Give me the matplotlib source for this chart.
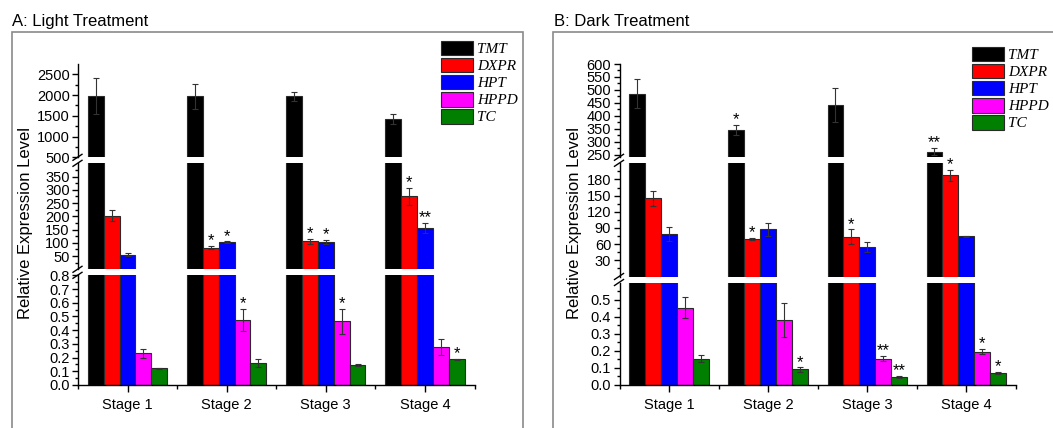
import matplotlib
matplotlib.use('Agg')
import matplotlib.pyplot as plt
from matplotlib.patches import Rectangle, Patch
from matplotlib.lines import Line2D
from matplotlib.ticker import FixedLocator, FormatStrFormatter
import numpy as np

plt.rcParams['font.family'] = ['Liberation Sans', 'DejaVu Sans']

stages = ['Stage 1', 'Stage 2', 'Stage 3', 'Stage 4']
genes = ['TMT', 'DXPR', 'HPT', 'HPPD', 'TC']
colors = ['#000000', '#ff0000', '#0000ff', '#ff00ff', '#007f00']

# ---- A: Light treatment ----
light_TMT = [1975, 1975, 1975, 1420]
light_TMT_err = [430, 300, 110, 120]
light_DXPR = [202, 82, 106, 275]
light_DXPR_err = [20, 6, 10, 33]
light_HPT = [55, 103, 104, 156]
light_HPT_err = [5, 2, 8, 18]
light_HPPD = [0.231, 0.474, 0.465, 0.275]
light_HPPD_err = [0.033, 0.08, 0.09, 0.058]
light_TC = [0.122, 0.158, 0.146, 0.187]
light_TC_err = [0.003, 0.03, 0.007, 0.005]
light_TMT_sig = ['', '', '', '']
light_DXPR_sig = ['', '*', '*', '*']
light_HPT_sig = ['', '*', '*', '**']
light_HPPD_sig = ['', '*', '*', '']
light_TC_sig = ['', '', '', '*']

# ---- B: Dark treatment ----
dark_TMT = [486, 346, 442, 262]
dark_TMT_err = [55, 20, 67, 14]
dark_DXPR = [145, 69, 73.5, 188]
dark_DXPR_err = [14.5, 2, 14, 10]
dark_HPT = [79.5, 88, 54.5, 74.7]
dark_HPT_err = [13, 12, 9, 0.5]
dark_HPPD = [0.453, 0.382, 0.155, 0.196]
dark_HPPD_err = [0.06, 0.1, 0.015, 0.016]
dark_TC = [0.155, 0.091, 0.048, 0.072]
dark_TC_err = [0.02, 0.012, 0.005, 0.006]
dark_TMT_sig = ['', '*', '', '**']
dark_DXPR_sig = ['', '*', '*', '*']
dark_HPT_sig = ['', '', '', '']
dark_HPPD_sig = ['', '', '**', '*']
dark_TC_sig = ['', '*', '**', '*']

light_vals = [light_TMT, light_DXPR, light_HPT, light_HPPD, light_TC]
light_errs = [light_TMT_err, light_DXPR_err, light_HPT_err, light_HPPD_err, light_TC_err]
light_sigs = [light_TMT_sig, light_DXPR_sig, light_HPT_sig, light_HPPD_sig, light_TC_sig]
dark_vals = [dark_TMT, dark_DXPR, dark_HPT, dark_HPPD, dark_TC]
dark_errs = [dark_TMT_err, dark_DXPR_err, dark_HPT_err, dark_HPPD_err, dark_TC_err]
dark_sigs = [dark_TMT_sig, dark_DXPR_sig, dark_HPT_sig, dark_HPPD_sig, dark_TC_sig]

W, H = 1053, 428
fig = plt.figure(figsize=(W / 100, H / 100), dpi=100)


def px_rect(x0, y0, x1, y1):
    return [x0 / W, 1 - y1 / H, (x1 - x0) / W, (y1 - y0) / H]


def fx(x):
    return x / W


def fy(y):
    return 1 - y / H


panels = [
    dict(title='A: Light Treatment', tx=12, box=(12.3, 32.3, 523.3, 470), x0=78, x1=474.5,
         ylab_x=25.5, leg=(440.7, 40.7),
         vals=light_vals, errs=light_errs, sigs=light_sigs,
         segs=[
             dict(y0=275.3, y1=385, lim=(0, 0.8), major=np.arange(0, 0.81, 0.1),
                  minor=np.arange(0.05, 0.8, 0.1), fmt='%.1f'),
             dict(y0=163.3, y1=269.3, lim=(0, 400), major=np.arange(50, 351, 50),
                  minor=np.arange(25, 400, 50), fmt='%d'),
             dict(y0=64, y1=157.3, lim=(500, 2750), major=np.arange(500, 2501, 500),
                  minor=np.arange(750, 2750, 500), fmt='%d'),
         ]),
    dict(title='B: Dark Treatment', tx=554.5, box=(553.3, 32.3, 1070, 470), x0=619.5, x1=1015.7,
         ylab_x=574, leg=(971.7, 46.7),
         vals=dark_vals, errs=dark_errs, sigs=dark_sigs,
         segs=[
             dict(y0=282.5, y1=385, lim=(0, 0.6), major=np.arange(0, 0.51, 0.1),
                  minor=np.arange(0.05, 0.6, 0.1), fmt='%.1f'),
             dict(y0=163.3, y1=276.5, lim=(0, 210), major=np.arange(30, 181, 30),
                  minor=np.arange(15, 210, 30), fmt='%d'),
             dict(y0=64, y1=157.3, lim=(240, 600), major=np.arange(250, 601, 50),
                  minor=np.arange(275, 600, 50), fmt='%d'),
         ]),
]

x = np.arange(1, len(stages) + 1)
bw = 0.16
offsets = (np.arange(len(genes)) - 2) * bw
edge = '#2a2a2a'


def home_segment(v, segs):
    k = 0
    for j in range(1, len(segs)):
        if v > segs[j - 1]['lim'][1]:
            k = j
    return k


for p in panels:
    # outer frame
    bx0, by0, bx1, by1 = p['box']
    fig.add_artist(Rectangle((fx(bx0), fy(by1)), fx(bx1 - bx0), (by1 - by0) / H,
                             transform=fig.transFigure, fill=False,
                             edgecolor='#8a8a8a', lw=1.2, clip_on=False))
    fig.text(fx(p['tx']), fy(21.5), p['title'], ha='left', va='center', fontsize=12)
    fig.text(fx(p['ylab_x']), fy(223), 'Relative Expression Level', rotation=90,
             ha='center', va='center', fontsize=12)

    segs = p['segs']
    for k, s in enumerate(segs):
        ax = fig.add_axes(px_rect(p['x0'], s['y0'], p['x1'], s['y1']))
        ax.set_xlim(0.5, 4.5)
        ax.set_ylim(*s['lim'])
        ax.patch.set_visible(False)
        for sp in ['top', 'right']:
            ax.spines[sp].set_visible(False)
        ax.spines['left'].set_linewidth(1.0)
        ax.yaxis.set_major_locator(FixedLocator(s['major']))
        ax.yaxis.set_minor_locator(FixedLocator(s['minor']))
        ax.yaxis.set_major_formatter(FormatStrFormatter(s['fmt']))
        ax.tick_params(axis='y', which='major', direction='out', length=4.5, width=1.0,
                       labelsize=10.5, pad=1.5)
        ax.tick_params(axis='y', which='minor', direction='out', length=2.5, width=1.0)
        if k == 0:
            ax.spines['bottom'].set_linewidth(1.0)
            ax.set_xticks(x)
            ax.set_xticklabels(stages)
            ax.xaxis.set_minor_locator(FixedLocator([0.5, 1.5, 2.5, 3.5, 4.5]))
            ax.tick_params(axis='x', which='major', direction='out', length=5, width=1.0,
                           labelsize=10.5, pad=4)
            ax.tick_params(axis='x', which='minor', direction='out', length=3, width=1.0)
        else:
            ax.spines['bottom'].set_visible(False)
            ax.set_xticks([])
        for g in range(len(genes)):
            vals = np.array(p['vals'][g], dtype=float)
            errs = np.array(p['errs'][g], dtype=float)
            keep = np.array([home_segment(v, segs) >= k for v in vals])
            if not keep.any():
                continue
            ax.bar((x + offsets[g])[keep], vals[keep], width=bw, color=colors[g],
                   edgecolor=edge, linewidth=0.8,
                   yerr=errs[keep],
                   error_kw=dict(ecolor='#333333', elinewidth=0.8, capsize=2.3, capthick=0.8))
            for i in range(len(stages)):
                sg = p['sigs'][g][i]
                if sg and home_segment(vals[i] + errs[i], segs) == k:
                    ax.annotate(sg, xy=(x[i] + offsets[g], vals[i] + errs[i]),
                                xytext=(0, 0.5), textcoords='offset points',
                                ha='center', va='baseline', fontsize=12)

    # break marks
    xa = p['x0']
    for upper, lower in [(segs[1], segs[0]), (segs[2], segs[1])]:
        for yy in (upper['y1'], lower['y0']):
            fig.add_artist(Line2D([fx(xa - 5), fx(xa + 4)], [fy(yy + 3), fy(yy - 3)],
                                  transform=fig.transFigure, color='black', lw=1.0))

    handles = [Patch(facecolor=c, edgecolor=edge, linewidth=0.8) for c in colors]
    fig.legend(handles, genes, loc='upper left',
               bbox_to_anchor=(fx(p['leg'][0]), fy(p['leg'][1])),
               frameon=False, borderpad=0, borderaxespad=0, handlelength=2.1,
               handleheight=1.1, labelspacing=0.1, handletextpad=0.3,
               prop=dict(family='Liberation Serif', style='italic', size=11))

fig.savefig('out.png', dpi=100)
